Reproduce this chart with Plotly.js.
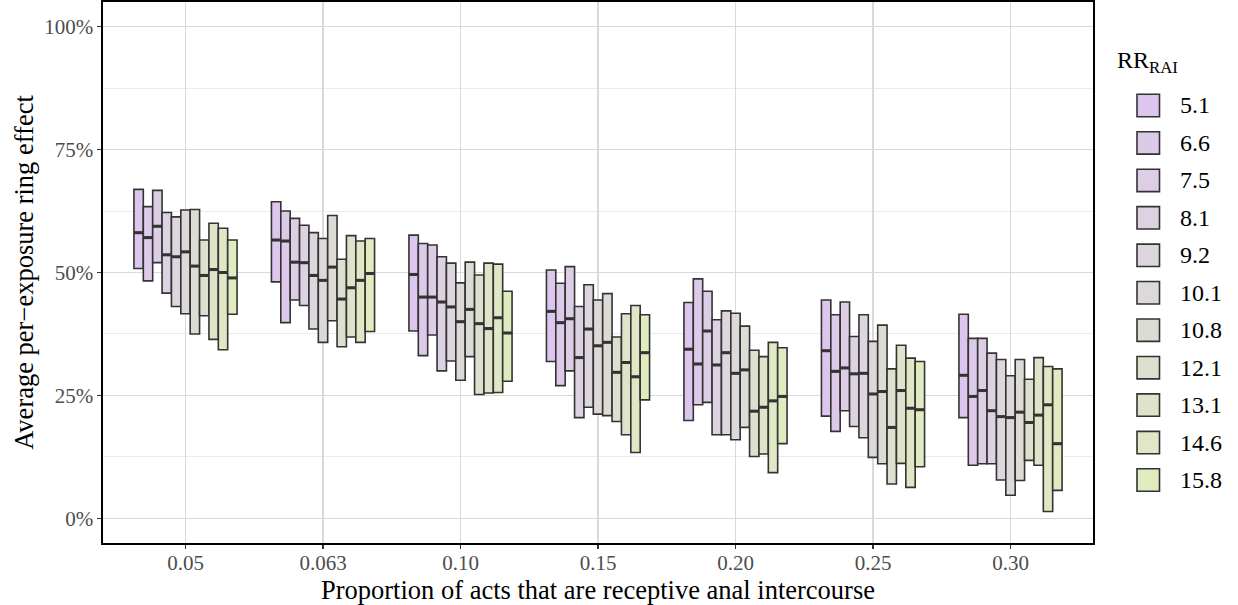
<!DOCTYPE html>
<html>
<head>
<meta charset="utf-8">
<script src="https://cdn.plot.ly/plotly-3.0.1.min.js"></script>
<style>
  html, body { margin: 0; padding: 0; background: #ffffff; }
  #chart { width: 1238px; height: 605px; }
</style>
</head>
<body>
<div id="chart"></div>
<script>
// Proportion of acts that are receptive anal intercourse (x categories)
const proportions = ['0.05', '0.063', '0.10', '0.15', '0.20', '0.25', '0.30'];

// Relative risk of RAI vs RVI (one crossbar per value within each category)
const rrRai = ['5.1', '6.6', '7.5', '8.1', '9.2', '10.1', '10.8', '12.1', '13.1', '14.6', '15.8'];

// Fill colours, one per RR value
const rrFill = ['#dcc6ed', '#ddcae9', '#ddcee6', '#ddd2e2', '#ddd6de', '#ddd9d9', '#dddcd4',
                '#dddfcf', '#dee3ca', '#dfe7c5', '#e0ebc0'];

// Average per-exposure ring effect (%) – rows: proportion, columns: RR value
const upperPct = [
  [66.9, 63.4, 66.7, 62.2, 61.3, 62.7, 62.8, 56.6, 60.0, 59.0, 56.6],
  [64.4, 62.5, 61.0, 59.6, 58.1, 56.9, 61.6, 52.7, 57.5, 56.4, 56.9],
  [57.6, 55.9, 55.6, 53.2, 51.9, 47.9, 52.1, 49.5, 51.9, 51.7, 46.2],
  [50.5, 47.8, 51.2, 43.1, 47.5, 44.4, 45.7, 36.9, 41.6, 43.3, 41.4],
  [43.9, 48.7, 46.2, 40.4, 42.2, 41.7, 39.1, 34.2, 32.9, 35.8, 34.7],
  [44.4, 41.4, 44.0, 37.0, 41.4, 36.0, 39.3, 30.4, 35.2, 32.6, 31.9],
  [41.5, 36.6, 36.6, 33.6, 32.3, 29.0, 32.3, 28.3, 32.7, 30.9, 30.4]
];
const medianPct = [
  [58.1, 57.1, 59.4, 53.6, 53.2, 54.2, 51.3, 49.4, 50.6, 50.0, 48.9],
  [56.6, 56.4, 52.1, 52.0, 49.4, 48.4, 51.1, 44.6, 46.9, 48.4, 49.8],
  [49.6, 45.0, 45.0, 44.0, 43.0, 40.0, 42.5, 39.6, 38.6, 40.8, 37.7],
  [42.1, 39.8, 40.6, 32.7, 38.5, 35.1, 35.8, 29.7, 31.7, 28.8, 33.7],
  [34.4, 31.4, 38.1, 31.2, 33.7, 29.5, 30.2, 21.8, 22.6, 23.9, 24.8],
  [34.1, 29.9, 30.6, 29.4, 29.5, 25.3, 25.8, 18.5, 26.0, 22.4, 22.1],
  [29.1, 24.8, 26.0, 21.9, 20.7, 20.5, 21.6, 19.5, 21.0, 23.1, 15.2]
];
const lowerPct = [
  [50.8, 48.3, 52.0, 45.8, 43.1, 41.6, 37.5, 41.2, 36.4, 34.3, 41.5],
  [48.1, 39.8, 44.4, 43.3, 38.5, 35.8, 40.2, 34.9, 36.9, 35.8, 38.0],
  [38.1, 33.1, 37.3, 30.0, 32.0, 28.1, 32.9, 25.2, 25.5, 25.6, 27.9],
  [31.9, 27.0, 30.0, 20.5, 22.6, 21.2, 20.9, 19.7, 17.0, 13.4, 24.1],
  [19.9, 23.1, 23.6, 17.0, 17.0, 16.0, 18.5, 12.6, 13.1, 9.3, 15.2],
  [20.8, 17.7, 21.9, 18.7, 16.4, 12.4, 11.1, 7.0, 11.2, 6.3, 10.5],
  [20.5, 10.8, 11.1, 11.1, 7.8, 4.7, 7.7, 11.8, 10.8, 1.4, 5.7]
];

// Styling constants
const SERIF = 'Liberation Serif, serif';
const EDGE = '#333333';
const MEDIAN_THICKNESS = 0.62;   // in axis units (%), draws a ~3px median bar

const boxTraces = [];
const medianTraces = [];
rrRai.forEach((rr, s) => {
  const lo = lowerPct.map(row => row[s]);
  const hi = upperPct.map(row => row[s]);
  const md = medianPct.map(row => row[s]);
  boxTraces.push({
    type: 'bar', name: rr, x: proportions,
    base: lo, y: hi.map((h, i) => h - lo[i]),
    offsetgroup: 'rr' + s, alignmentgroup: 'all',
    marker: { color: rrFill[s], line: { color: EDGE, width: 1.6 } },
    hoverinfo: 'skip', showlegend: false
  });
  medianTraces.push({
    type: 'bar', name: rr + ' median', x: proportions,
    base: md.map(m => m - MEDIAN_THICKNESS / 2),
    y: md.map(() => MEDIAN_THICKNESS),
    offsetgroup: 'rr' + s, alignmentgroup: 'all',
    marker: { color: EDGE, line: { width: 0 } },
    hoverinfo: 'skip', showlegend: false
  });
});

// Plot area in pixels (used to place the hand-built legend)
const L = 103, R = 145, T = 2, B = 62, W = 1238, H = 605;
const pw = W - L - R, ph = H - T - B;
const px = x => (x - L) / pw;
const py = y => (H - B - y) / ph;

const shapes = [];
const annotations = [{
  xref: 'paper', yref: 'paper', x: px(1115), y: py(62),
  xanchor: 'left', yanchor: 'middle', showarrow: false,
  text: 'RR<sub>RAI</sub>',
  font: { family: SERIF, size: 24, color: '#000000' }
}];
rrRai.forEach((rr, s) => {
  const cy = 105.5 + s * 37.45;
  shapes.push({
    type: 'rect', xref: 'paper', yref: 'paper',
    x0: px(1137), x1: px(1159.5), y0: py(cy - 11.2), y1: py(cy + 11.2),
    fillcolor: rrFill[s], line: { color: EDGE, width: 1.6 }
  });
  annotations.push({
    xref: 'paper', yref: 'paper', x: px(1178), y: py(cy),
    xanchor: 'left', yanchor: 'middle', showarrow: false,
    text: rr, font: { family: SERIF, size: 24, color: '#000000' }
  });
});

const layout = {
  width: W, height: H,
  margin: { l: L, r: R, t: T, b: B, pad: 0 },
  paper_bgcolor: '#ffffff', plot_bgcolor: '#ffffff',
  barmode: 'group', bargap: 0.25, bargroupgap: 0,
  showlegend: false,
  font: { family: SERIF },
  xaxis: {
    type: 'category', range: [-0.6, 6.6],
    showgrid: true, gridcolor: '#d9d9d9', gridwidth: 1.1,
    showline: true, linecolor: '#000000', linewidth: 1.6, mirror: true,
    ticks: 'outside', ticklen: 4, tickwidth: 1.1, tickcolor: '#333333',
    ticklabelstandoff: -4,
    tickfont: { family: SERIF, size: 21, color: '#4d4d4d' },
    title: { text: 'Proportion of acts that are receptive anal intercourse',
             font: { family: SERIF, size: 26.5, color: '#000000' }, standoff: 2 },
    zeroline: false, fixedrange: true
  },
  yaxis: {
    range: [-5, 105],
    tickvals: [0, 25, 50, 75, 100], ticktext: ['0%', '25%', '50%', '75%', '100%'],
    showgrid: true, gridcolor: '#d9d9d9', gridwidth: 1.1,
    minor: { tickvals: [12.5, 37.5, 62.5, 87.5], showgrid: true, gridcolor: '#ebebeb', gridwidth: 1, ticks: '' },
    showline: true, linecolor: '#000000', linewidth: 1.6, mirror: true,
    ticks: 'outside', ticklen: 4, tickwidth: 1.1, tickcolor: '#333333',
    tickfont: { family: SERIF, size: 21, color: '#4d4d4d' },
    title: { text: 'Average per\u2212exposure ring effect',
             font: { family: SERIF, size: 26.5, color: '#000000' }, standoff: 3 },
    zeroline: false, fixedrange: true
  },
  shapes: shapes,
  annotations: annotations
};

Plotly.newPlot('chart', boxTraces.concat(medianTraces), layout,
  { displayModeBar: false, staticPlot: true });
</script>
</body>
</html>
